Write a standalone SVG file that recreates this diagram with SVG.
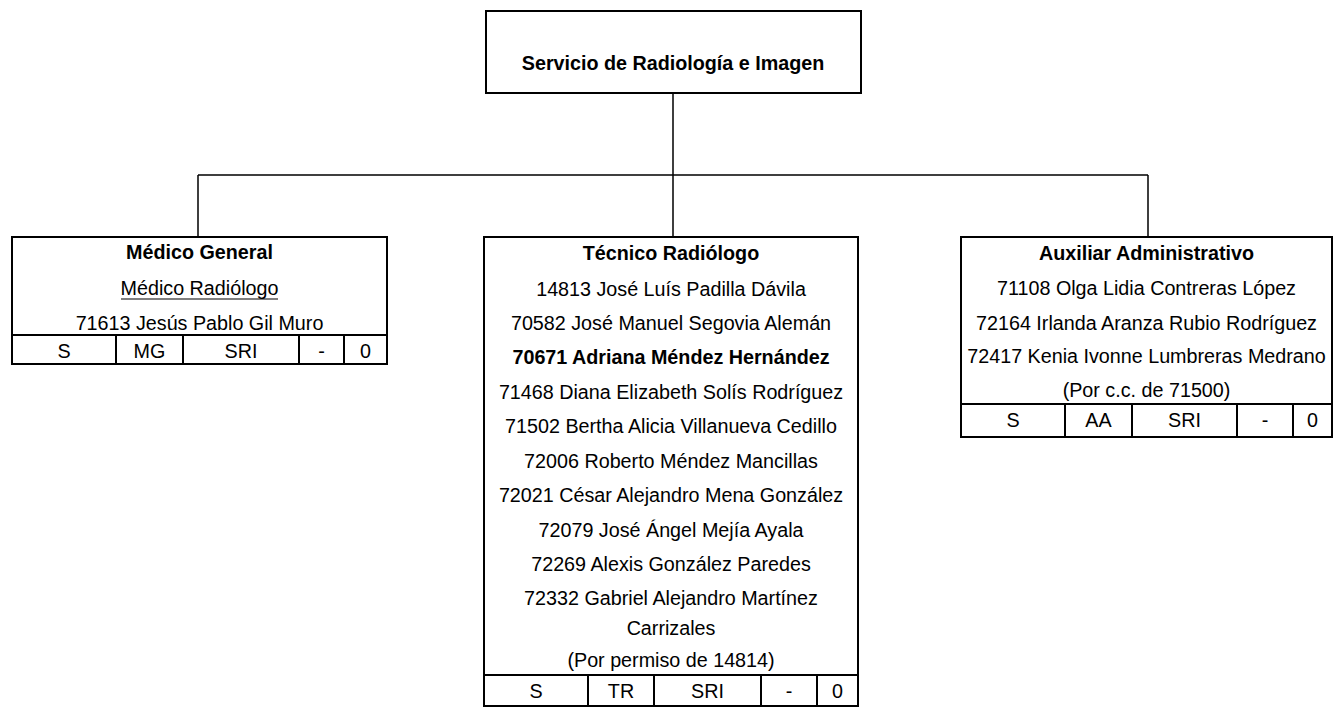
<svg xmlns="http://www.w3.org/2000/svg" width="1335" height="707" viewBox="0 0 1335 707">
<style>
  text { font-family: "Liberation Sans", Arial, sans-serif; font-size: 21px; fill: #000; text-anchor: middle; }
  .b { font-weight: bold; }
  .box { fill: #fff; stroke: #000; stroke-width: 2; }
  .cell { stroke: #000; stroke-width: 2; fill: none; }
  .conn { stroke: #000; stroke-width: 1.5; fill: none; }
</style>
<rect width="1335" height="707" fill="#fff"/>
<g id="connectors">
  <path class="conn" d="M673 93 V175 M198 175 H1148 M198 175 V237 M673 175 V237 M1148 175 V237"/>
</g>
<g id="servicio">
  <rect class="box" x="486" y="11" width="375" height="82"/>
  <text class="b" transform="translate(673 70) scale(0.94 1)">Servicio de Radiología e Imagen</text>
</g>
<g id="medico-general">
  <rect class="box" x="12" y="237" width="375" height="127"/>
  <text class="b" transform="translate(199.5 259) scale(0.94 1)">Médico General</text>
  <text transform="translate(199.5 295) scale(0.94 1)">Médico Radiólogo</text>
  <line x1="121" y1="299" x2="278" y2="299" stroke="#000" stroke-width="1.2"/>
  <text transform="translate(199.5 330) scale(0.94 1)">71613 Jesús Pablo Gil Muro</text>
  <path class="cell" d="M12 335 H387 M116 335 V364 M183 335 V364 M299 335 V364 M344 335 V364"/>
  <text transform="translate(64 358) scale(0.94 1)">S</text>
  <text transform="translate(149.5 358) scale(0.94 1)">MG</text>
  <text transform="translate(241 358) scale(0.94 1)">SRI</text>
  <text transform="translate(321.5 358) scale(0.94 1)">-</text>
  <text transform="translate(365.5 358) scale(0.94 1)">0</text>
</g>
<g id="tecnico-radiologo">
  <rect class="box" x="484" y="237" width="374" height="469"/>
  <text class="b" transform="translate(671 260) scale(0.94 1)">Técnico Radiólogo</text>
  <text transform="translate(671 296) scale(0.94 1)">14813 José Luís Padilla Dávila</text>
  <text transform="translate(671 330) scale(0.94 1)">70582 José Manuel Segovia Alemán</text>
  <text class="b" transform="translate(671 364) scale(0.94 1)">70671 Adriana Méndez Hernández</text>
  <text transform="translate(671 399) scale(0.94 1)">71468 Diana Elizabeth Solís Rodríguez</text>
  <text transform="translate(671 433) scale(0.94 1)">71502 Bertha Alicia Villanueva Cedillo</text>
  <text transform="translate(671 468) scale(0.94 1)">72006 Roberto Méndez Mancillas</text>
  <text transform="translate(671 502) scale(0.94 1)">72021 César Alejandro Mena González</text>
  <text transform="translate(671 537) scale(0.94 1)">72079 José Ángel Mejía Ayala</text>
  <text transform="translate(671 571) scale(0.94 1)">72269 Alexis González Paredes</text>
  <text transform="translate(671 605) scale(0.94 1)">72332 Gabriel Alejandro Martínez</text>
  <text transform="translate(671 635) scale(0.94 1)">Carrizales</text>
  <text transform="translate(671 667) scale(0.94 1)">(Por permiso de 14814)</text>
  <path class="cell" d="M484 675 H858 M588 675 V706 M654 675 V706 M761 675 V706 M817 675 V706"/>
  <text transform="translate(536 698) scale(0.94 1)">S</text>
  <text transform="translate(621 698) scale(0.94 1)">TR</text>
  <text transform="translate(707.5 698) scale(0.94 1)">SRI</text>
  <text transform="translate(789 698) scale(0.94 1)">-</text>
  <text transform="translate(837.5 698) scale(0.94 1)">0</text>
</g>
<g id="auxiliar-administrativo">
  <rect class="box" x="961" y="237" width="371" height="200"/>
  <text class="b" transform="translate(1146.5 260) scale(0.94 1)">Auxiliar Administrativo</text>
  <text transform="translate(1146.5 295) scale(0.94 1)">71108 Olga Lidia Contreras López</text>
  <text transform="translate(1146.5 330) scale(0.94 1)">72164 Irlanda Aranza Rubio Rodríguez</text>
  <text transform="translate(1146.5 363) scale(0.94 1)">72417 Kenia Ivonne Lumbreras Medrano</text>
  <text transform="translate(1146.5 397) scale(0.94 1)">(Por c.c. de 71500)</text>
  <path class="cell" d="M961 404 H1332 M1065 404 V437 M1132 404 V437 M1237 404 V437 M1293 404 V437"/>
  <text transform="translate(1013 427) scale(0.94 1)">S</text>
  <text transform="translate(1098.5 427) scale(0.94 1)">AA</text>
  <text transform="translate(1184.5 427) scale(0.94 1)">SRI</text>
  <text transform="translate(1265 427) scale(0.94 1)">-</text>
  <text transform="translate(1312.5 427) scale(0.94 1)">0</text>
</g>
</svg>
